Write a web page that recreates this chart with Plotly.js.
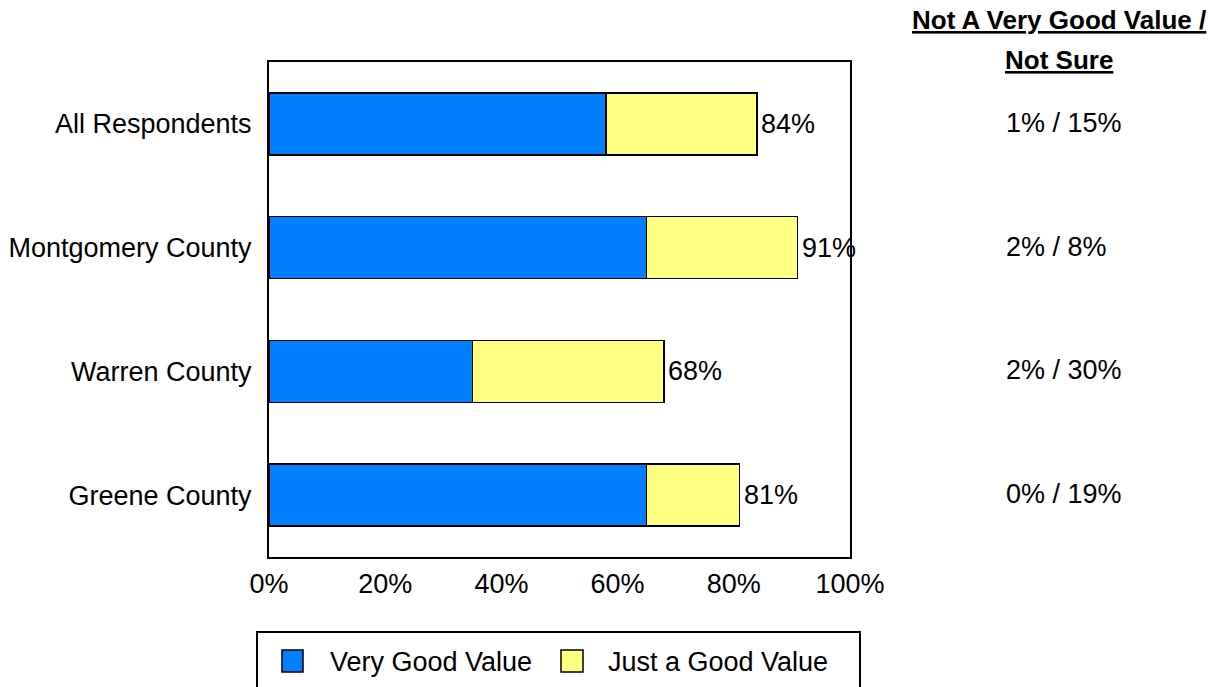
<!DOCTYPE html>
<html>
<head>
<meta charset="utf-8">
<script src="https://cdn.plot.ly/plotly-3.0.1.min.js"></script>
<style>html,body{margin:0;padding:0;background:#fff;}#chart{width:1222px;height:687px;}</style>
</head>
<body>
<div id="chart"></div>
<script>
var categories = ["All Respondents", "Montgomery County", "Warren County", "Greene County"];
var veryGood = [58, 65, 35, 65];
var justGood = [26, 26, 33, 16];
var totalLabels = ["84%", "91%", "68%", "81%"];
var totals = [84, 91, 68, 81];
var notGoodNotSure = ["1% / 15%", "2% / 8%", "2% / 30%", "0% / 19%"];
var seriesNames = ["Very Good Value", "Just a Good Value"];
var seriesColors = ["#0080FF", "#FFFF80"];
var xTicks = [0, 20, 40, 60, 80, 100];
var xTickText = ["0%", "20%", "40%", "60%", "80%", "100%"];
var headerLines = ["Not A Very Good Value /", "Not Sure"];

var FONT = "Liberation Sans, Arial, sans-serif";

// plot area in pixels
var PL = 269, PR = 850, PT = 62, PB = 557;
function px(x) { return (x - PL) / (PR - PL); }
function py(y) { return (PB - y) / (PB - PT); }

var traces = [
  {type: "bar", orientation: "h", name: seriesNames[0], y: categories, x: veryGood,
   marker: {color: seriesColors[0], line: {color: "#000", width: 1.5}}, hoverinfo: "x+y"},
  {type: "bar", orientation: "h", name: seriesNames[1], y: categories, x: justGood,
   marker: {color: seriesColors[1], line: {color: "#000", width: 1.5}}, hoverinfo: "x+y"}
];

var annotations = [];
categories.forEach(function (c, i) {
  annotations.push({x: totals[i], y: c, xref: "x", yref: "y", text: totalLabels[i],
    showarrow: false, xanchor: "left", yanchor: "middle", xshift: 2,
    font: {family: FONT, size: 27, color: "#000"}});
  annotations.push({x: px(1004), y: c, xref: "paper", yref: "y", text: notGoodNotSure[i],
    showarrow: false, xanchor: "left", yanchor: "middle", yshift: 1,
    font: {family: FONT, size: 27, color: "#000"}});
});
annotations.push({x: px(1058.5), y: py(20), xref: "paper", yref: "paper", yanchor: "middle", xanchor: "center",
  text: "<u>" + headerLines[0] + "</u>", showarrow: false,
  font: {family: FONT, size: 26, color: "#000", weight: "bold"}});
annotations.push({x: px(1058.5), y: py(60), xref: "paper", yref: "paper", yanchor: "middle", xanchor: "center",
  text: "<u>" + headerLines[1] + "</u>", showarrow: false,
  font: {family: FONT, size: 26, color: "#000", weight: "bold"}});

// custom legend (box, swatches, labels)
var shapes = [
  {type: "rect", xref: "paper", yref: "paper", x0: px(257), x1: px(860), y0: py(632), y1: py(720),
   line: {color: "#000", width: 2}, fillcolor: "rgba(0,0,0,0)"},
  {type: "rect", xref: "paper", yref: "paper", x0: px(282), x1: px(303), y0: py(650), y1: py(672),
   line: {color: "#000", width: 1.5}, fillcolor: seriesColors[0]},
  {type: "rect", xref: "paper", yref: "paper", x0: px(561), x1: px(583), y0: py(650), y1: py(672),
   line: {color: "#000", width: 1.5}, fillcolor: seriesColors[1]}
];
annotations.push({x: px(328), y: py(662), xref: "paper", yref: "paper", xanchor: "left", yanchor: "middle",
  text: seriesNames[0], showarrow: false, font: {family: FONT, size: 27, color: "#000"}});
annotations.push({x: px(606), y: py(662), xref: "paper", yref: "paper", xanchor: "left", yanchor: "middle",
  text: seriesNames[1], showarrow: false, font: {family: FONT, size: 27, color: "#000"}});

var layout = {
  width: 1222, height: 687,
  margin: {l: PL, r: 1222 - PR, t: PT, b: 687 - PB, pad: 0},
  paper_bgcolor: "#fff", plot_bgcolor: "#fff",
  barmode: "stack", bargap: 0.5,
  font: {family: FONT, size: 27, color: "#000"},
  xaxis: {range: [0, 100], tickvals: xTicks, ticktext: xTickText, showgrid: false, zeroline: false,
    showline: true, mirror: true, linecolor: "#000", linewidth: 2, ticks: "",
    ticklabelstandoff: 2, tickfont: {family: FONT, size: 27, color: "#000"}, fixedrange: true},
  yaxis: {type: "category", categoryorder: "array", categoryarray: categories, autorange: "reversed",
    showgrid: false, zeroline: false, showline: true, mirror: true, linecolor: "#000", linewidth: 2,
    ticks: "", ticklabelstandoff: 10, tickfont: {family: FONT, size: 27, color: "#000"}, fixedrange: true},
  showlegend: false,
  shapes: shapes,
  annotations: annotations
};

Plotly.newPlot("chart", traces, layout, {displayModeBar: false, staticPlot: true});
</script>
</body>
</html>
